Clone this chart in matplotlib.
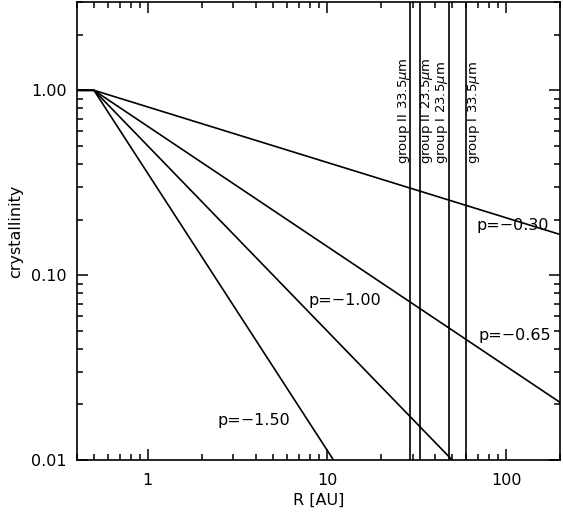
import matplotlib
matplotlib.use("Agg")
import matplotlib.pyplot as plt
from matplotlib.ticker import FixedLocator, FixedFormatter, LogLocator, NullFormatter

# crystallinity power laws (R in AU)
p_labels = ["p=\u22120.30", "p=\u22120.65", "p=\u22121.00", "p=\u22121.50"]
r_pts = [[0.4, 0.5, 200.0], [0.4, 0.5, 200.0], [0.4, 0.5, 50.0], [0.4, 0.5, 10.8]]
c_pts = [[1.0, 1.0, 0.166], [1.0, 1.0, 0.0205], [1.0, 1.0, 0.01], [1.0, 1.0, 0.0101]]
label_xy = [(68.0, 0.186), (70.0, 0.0474), (7.9, 0.0732), (2.45, 0.0164)]

# wavelength group radii
group_r = [29.2, 33.1, 47.8, 59.4]
group_text = ["group II 33.5$\\mu$m", "group II 23.5$\\mu$m",
              "group I 23.5$\\mu$m", "group I 33.5$\\mu$m"]
group_text_x = [26.9, 36.1, 43.7, 66.0]

plt.rcParams['font.family'] = ['DejaVu Sans']
fig = plt.figure(figsize=(5.63, 5.17), dpi=100)
ax = fig.add_axes([0.136, 0.110, 0.859, 0.886])

for r, c in zip(r_pts, c_pts):
    ax.plot(r, c, color='black', lw=1.2)
for lab, (x, y) in zip(p_labels, label_xy):
    ax.text(x, y, lab, fontsize=11.5, ha='left', va='center')

for r in group_r:
    ax.axvline(r, color='black', lw=1.2)
for t, x in zip(group_text, group_text_x):
    ax.text(x, 0.40, t, rotation=90, fontsize=9.5, ha='center', va='bottom')

ax.set_xscale('log')
ax.set_yscale('log')
ax.set_xlim(0.4, 200)
ax.set_ylim(0.01, 3.0)

ax.xaxis.set_major_locator(FixedLocator([1, 10, 100]))
ax.xaxis.set_major_formatter(FixedFormatter(["1", "10", "100"]))
ax.xaxis.set_minor_locator(LogLocator(base=10, subs=range(2, 10)))
ax.xaxis.set_minor_formatter(NullFormatter())
ax.yaxis.set_major_locator(FixedLocator([0.01, 0.1, 1.0]))
ax.yaxis.set_major_formatter(FixedFormatter(["0.01", "0.10", "1.00"]))
ax.yaxis.set_minor_locator(LogLocator(base=10, subs=range(2, 10)))
ax.yaxis.set_minor_formatter(NullFormatter())

ax.tick_params(which='both', direction='in', top=True, right=True, width=1.1,
               labelsize=11.5)
ax.tick_params(which='major', length=8)
ax.tick_params(which='minor', length=4)
ax.tick_params(axis='x', pad=9)
ax.tick_params(axis='y', pad=7)
for s in ax.spines.values():
    s.set_linewidth(1.2)

ax.set_xlabel("R [AU]", fontsize=11.5, labelpad=4)
ax.set_ylabel("crystallinity", fontsize=11.5, labelpad=6)

fig.savefig("out.png", dpi=100)
